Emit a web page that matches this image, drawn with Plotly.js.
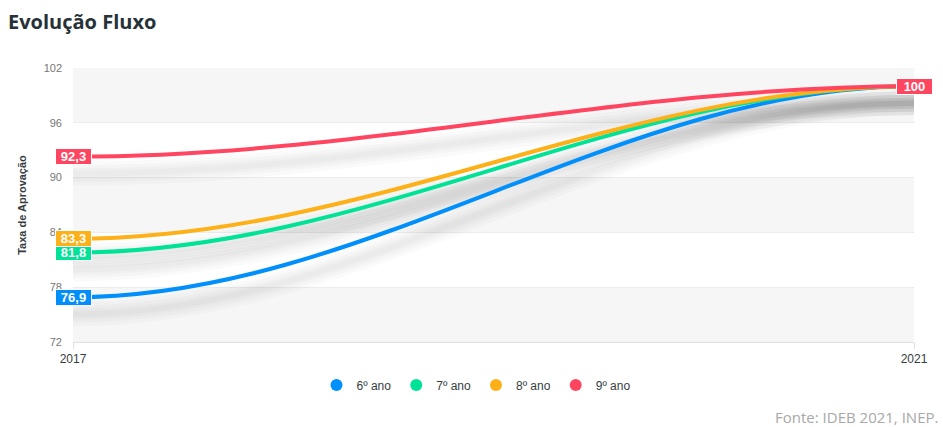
<!DOCTYPE html>
<html>
<head>
<meta charset="utf-8">
<script src="https://cdn.plot.ly/plotly-3.0.1.min.js"></script>
<style>
  html, body { margin: 0; padding: 0; background: #ffffff; }
  #chart { width: 943px; height: 427px; }
</style>
</head>
<body>
<div id="chart"></div>
<script>
// ---- data ----
const years = [2017, 2021];
const seriesNames = ['6º ano', '7º ano', '8º ano', '9º ano'];
const ano6 = [76.9, 100];
const ano7 = [81.8, 100];
const ano8 = [83.3, 100];
const ano9 = [92.3, 100];
const yTicks = [72, 78, 84, 90, 96, 102];
const chartTitle = 'Evolução Fluxo';
const yTitle = 'Taxa de Aprovação';
const sourceText = 'Fonte: IDEB 2021, INEP.';

// ---- style ----
const colors = ['#008FFB', '#00E396', '#FEB019', '#FF4560'];
const allSeries = [ano6, ano7, ano8, ano9];
const yMin = yTicks[0], yMax = yTicks[yTicks.length - 1];
const plotH = 274; // px height of plot area
const pxToUnits = (yMax - yMin) / plotH;

function fmt(v) { return String(v).replace('.', ','); }

function curvePath(xs, ys, dy) {
  const x0 = xs[0], x1 = xs[1];
  const y0 = ys[0] - dy, y1 = ys[1] - dy;
  const k = 0.35 * (x1 - x0);
  return `M ${x0},${y0} C ${x0 + k},${y0} ${x1 - k},${y1} ${x1},${y1}`;
}

const shapes = [];
// alternating row bands
for (let i = yTicks.length - 1; i > 0; i -= 2) {
  shapes.push({
    type: 'rect', xref: 'paper', yref: 'y', x0: 0, x1: 1,
    y0: yTicks[i - 1], y1: yTicks[i],
    fillcolor: '#f6f6f6', line: { width: 0 }, layer: 'below'
  });
}
// soft shadows under each line
const shadowDy = 17 * pxToUnits;
const shadowWidths = [24, 17, 11, 6];
allSeries.forEach((vals) => {
  shadowWidths.forEach((w) => {
    shapes.push({
      type: 'path', xref: 'x', yref: 'y', layer: 'between',
      path: curvePath(years, vals, shadowDy),
      line: { color: 'rgba(0,0,0,0.018)', width: w }
    });
  });
});
// lines
allSeries.forEach((vals, i) => {
  shapes.push({
    type: 'path', xref: 'x', yref: 'y', layer: 'between',
    path: curvePath(years, vals, 0),
    line: { color: colors[i], width: 4 }
  });
});

const traces = allSeries.map((vals, i) => ({
  type: 'scatter', mode: 'markers', name: seriesNames[i],
  x: years, y: vals,
  marker: { color: colors[i], size: 12 },
  hoverinfo: 'skip'
}));

const annotations = [];
allSeries.forEach((vals, i) => {
  vals.forEach((v, j) => {
    annotations.push({
      x: years[j], y: v, xref: 'x', yref: 'y', text: fmt(v),
      showarrow: false, xanchor: 'center', yanchor: 'middle',
      bgcolor: colors[i], bordercolor: '#ffffff', borderwidth: 1, borderpad: 1,
      width: 33, height: 13,
      font: { family: 'Liberation Sans, Arial, sans-serif', size: 13, color: '#ffffff', weight: 'bold' }
    });
  });
});
annotations.push({
  xref: 'paper', yref: 'paper', x: (940 - 73) / 841, y: (342 - 417) / 274,
  xanchor: 'right', yanchor: 'middle', showarrow: false, text: sourceText,
  font: { family: 'Open Sans, sans-serif', size: 15, color: '#a8a8a8' }
});

const layout = {
  width: 943, height: 427,
  margin: { l: 73, r: 29, t: 68, b: 85 },
  paper_bgcolor: '#ffffff', plot_bgcolor: '#ffffff',
  title: {
    text: chartTitle, xref: 'container', yref: 'container',
    x: 8 / 943, xanchor: 'left', y: 1 - 22 / 427, yanchor: 'middle',
    font: { family: 'Open Sans, sans-serif', size: 20, color: '#263238', weight: 'bold' }
  },
  xaxis: {
    type: 'linear', range: [years[0], years[1]],
    tickvals: years, ticktext: years.map(String),
    showgrid: false, zeroline: false,
    showline: true, linecolor: '#e0e0e0', linewidth: 1,
    ticks: 'outside', ticklen: 6, tickcolor: '#e0e0e0',
    tickfont: { family: 'Liberation Sans, Arial, sans-serif', size: 12, color: '#373d3f' },
    fixedrange: true
  },
  yaxis: {
    range: [yMin, yMax], tickvals: yTicks, ticktext: yTicks.map(String),
    showgrid: true, gridcolor: '#ececec', gridwidth: 1, zeroline: false,
    showline: false, ticks: '', ticklabelstandoff: 10,
    tickfont: { family: 'Liberation Sans, Arial, sans-serif', size: 11, color: '#777777' },
    title: {
      text: yTitle, standoff: 14,
      font: { family: 'Liberation Sans, Arial, sans-serif', size: 11, color: '#373d3f', weight: 'bold' }
    },
    fixedrange: true
  },
  legend: {
    orientation: 'h', xref: 'container', yref: 'container',
    x: 476 / 943, xanchor: 'center', y: 1 - 385 / 427, yanchor: 'middle',
    font: { family: 'Liberation Sans, Arial, sans-serif', size: 12, color: '#373d3f' },
    itemwidth: 30, tracegroupgap: 0
  },
  shapes: shapes,
  annotations: annotations,
  showlegend: true
};

Plotly.newPlot('chart', traces, layout, { displayModeBar: false, staticPlot: true });
</script>
</body>
</html>
